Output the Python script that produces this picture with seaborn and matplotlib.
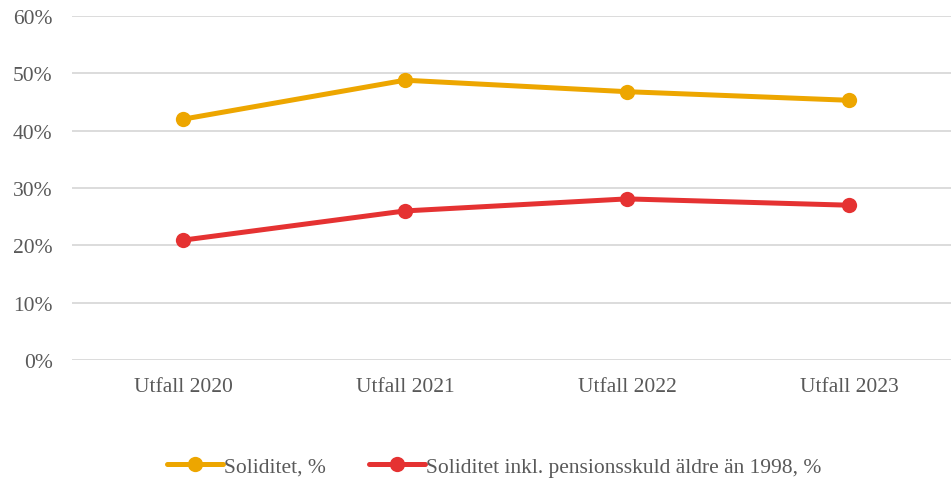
import matplotlib
matplotlib.use("Agg")
import matplotlib.pyplot as plt
import seaborn as sns
import pandas as pd

categories = ["Utfall 2020", "Utfall 2021", "Utfall 2022", "Utfall 2023"]
soliditet = [42.0, 48.8, 46.8, 45.3]
soliditet_inkl = [20.9, 26.0, 28.1, 27.0]
series_names = ["Soliditet, %", "Soliditet inkl. pensionsskuld äldre än 1998, %"]
colors = ["#EDA600", "#E53232"]
yticks = [0, 10, 20, 30, 40, 50, 60]

sns.set_theme(style="white")
plt.rcParams['font.family'] = ['Liberation Serif', 'DejaVu Serif']

df = pd.DataFrame({
    "x": list(range(len(categories))) * 2,
    "value": soliditet + soliditet_inkl,
    "series": [series_names[0]] * len(categories) + [series_names[1]] * len(categories),
})

fig = plt.figure(figsize=(9.51, 4.81), dpi=100)
ax = fig.add_axes([72 / 951, (481 - 361) / 481, 1 - 72 / 951, (361 - 17) / 481])

sns.lineplot(data=df, x="x", y="value", hue="series", palette=colors,
             marker="o", markersize=11, linewidth=3.6, markeredgewidth=0,
             sort=False, ax=ax, legend=True)

ax.set_xlim(-0.5, 3.46)
ax.set_ylim(0, 60)
ax.set_yticks(yticks)
ax.set_yticklabels([f"{t}%" for t in yticks])
ax.set_xticks(range(len(categories)))
ax.set_xticklabels(categories)
ax.set_xlabel("")
ax.set_ylabel("")
ax.grid(axis="y", color="#D9D9D9", linewidth=1.3)
ax.set_axisbelow(True)
for s in ax.spines.values():
    s.set_visible(False)
ax.tick_params(axis="both", length=0, labelsize=15.5, labelcolor="#595959")
ax.tick_params(axis="y", pad=14)
ax.tick_params(axis="x", pad=12)

handles, labels = ax.get_legend_handles_labels()
ax.legend_.remove()
fig.legend(handles, labels, loc="center", bbox_to_anchor=(0.52, 0.028),
           ncol=2, frameon=False, fontsize=15.5, labelcolor="#595959",
           handlelength=2.6, handletextpad=0.05, columnspacing=2.0)

fig.savefig("out.png", dpi=100)
